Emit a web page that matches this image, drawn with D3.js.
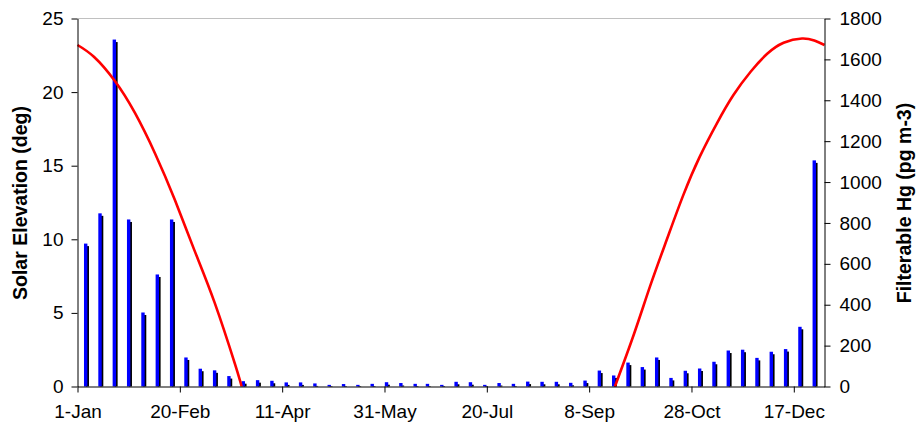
<!DOCTYPE html>
<html>
<head>
<meta charset="utf-8">
<script src="https://cdn.jsdelivr.net/npm/d3@7"></script>
<style>
  body { margin: 0; background: #fff; }
  svg text { font-family: "Liberation Sans", Arial, sans-serif; fill: #000; }
</style>
</head>
<body>
<svg id="chart" width="917" height="425"></svg>
<script>
// weekly sample days (day of year) and filterable Hg (pg m-3)
const sampleDays = [4, 11, 18, 25, 32, 39, 46, 53, 60, 67, 74, 81, 88, 95, 102, 109, 116, 123, 130, 137,
  144, 151, 158, 165, 171, 178, 185, 192, 199, 206, 213, 220, 227, 234, 241, 248, 255, 262, 269, 276,
  283, 290, 297, 304, 311, 318, 325, 332, 339, 346, 353, 360];
const hgValues = [699, 847, 1697, 817, 362, 548, 817, 142, 87, 79, 51, 26, 31, 28, 20, 20, 15, 8, 12, 8,
  13, 21, 17, 13, 13, 8, 23, 21, 8, 17, 13, 24, 23, 23, 18, 29, 78, 54, 117, 95,
  142, 42, 77, 88, 121, 176, 180, 140, 170, 183, 292, 1106];

// solar elevation curve (deg), null = sun below horizon
const sunDays = [0, 8, 18, 28, 38, 47.5, 57, 67, 77, 80.2, 170, 262.6, 272, 280, 288, 296, 304, 312.5, 320.5, 329, 337, 345, 354, 360, 365];
const sunElev = [23.2, 22.4, 20.8, 18.6, 15.8, 12.7, 9.3, 5.7, 1.5, 0, null, 0, 3.6, 6.9, 10.0, 13.0, 15.6, 17.9, 19.8, 21.4, 22.6, 23.35, 23.64, 23.5, 23.2];

const tickDays = [0, 50, 100, 150, 200, 250, 300, 350];
const tickLabels = ["1-Jan", "20-Feb", "11-Apr", "31-May", "20-Jul", "8-Sep", "28-Oct", "17-Dec"];

const plotLeft = 77.5, plotRight = 824.5, plotTop = 18.5, plotBottom = 386.5;

const svg = d3.select("#chart");

const x = d3.scaleLinear().domain([0, 365]).range([plotLeft, plotRight]);
const yL = d3.scaleLinear().domain([0, 25]).range([plotBottom, plotTop]);
const yR = d3.scaleLinear().domain([0, 1800]).range([plotBottom, plotTop]);

// top border
svg.append("line")
  .attr("x1", plotLeft).attr("x2", plotRight)
  .attr("y1", plotTop).attr("y2", plotTop)
  .attr("stroke", "#c0c0c0").attr("stroke-width", 1);

// bars: black side shadow then blue face
const bars = svg.append("g");
bars.selectAll(".shadow")
  .data(hgValues)
  .enter()
  .append("rect")
  .attr("class", "shadow")
  .attr("x", (d, i) => x(sampleDays[i]) + 0.3)
  .attr("y", d => Math.min(yR(d) + 2.5, plotBottom - 0.5))
  .attr("width", 3)
  .attr("height", d => Math.max(plotBottom - yR(d) - 2.5, 0.5))
  .attr("fill", "#000");
bars.selectAll(".bar")
  .data(hgValues)
  .enter()
  .append("rect")
  .attr("class", "bar")
  .attr("x", (d, i) => x(sampleDays[i]) - 1.7)
  .attr("y", d => yR(d))
  .attr("width", 3.4)
  .attr("height", d => plotBottom - yR(d))
  .attr("fill", "#0000ff");

// solar elevation line
const sunData = sunDays.map((d, i) => ({ day: d, elev: sunElev[i] }));
const line = d3.line()
  .defined(d => d.elev != null)
  .x(d => x(d.day))
  .y(d => yL(Math.max(d.elev, 0)))
  .curve(d3.curveNatural);
svg.append("path")
  .datum(sunData)
  .attr("d", line)
  .attr("fill", "none")
  .attr("stroke", "#ff0000")
  .attr("stroke-width", 2.6);

// axes
const xAxis = d3.axisBottom(x)
  .tickValues(tickDays)
  .tickFormat((d, i) => tickLabels[i])
  .tickSize(6).tickSizeOuter(0).tickPadding(12);
const yAxisL = d3.axisLeft(yL).tickValues([0, 5, 10, 15, 20, 25]).tickSize(6).tickSizeOuter(0).tickPadding(8);
const yAxisR = d3.axisRight(yR).tickValues(d3.range(0, 1801, 200)).tickFormat(d3.format("d"))
  .tickSize(6).tickSizeOuter(0).tickPadding(9);

const gx = svg.append("g").attr("transform", `translate(0, ${plotBottom})`).call(xAxis);
const gl = svg.append("g").attr("transform", `translate(${plotLeft}, 0)`).call(yAxisL);
const gr = svg.append("g").attr("transform", `translate(${plotRight}, 0)`).call(yAxisR);

[gx, gl, gr].forEach(g => {
  g.selectAll("path, line").attr("stroke", "#000");
  g.selectAll("text").style("font-size", "19px").attr("fill", "#000");
});

svg.append("text")
  .attr("transform", "translate(20, 203) rotate(-90)")
  .attr("text-anchor", "middle")
  .attr("dominant-baseline", "central")
  .style("font-size", "19.5px")
  .style("font-weight", "bold")
  .text("Solar Elevation (deg)");

svg.append("text")
  .attr("transform", "translate(904, 203) rotate(-90)")
  .attr("text-anchor", "middle")
  .attr("dominant-baseline", "central")
  .style("font-size", "19.5px")
  .style("font-weight", "bold")
  .text("Filterable Hg (pg m-3)");
</script>
</body>
</html>
